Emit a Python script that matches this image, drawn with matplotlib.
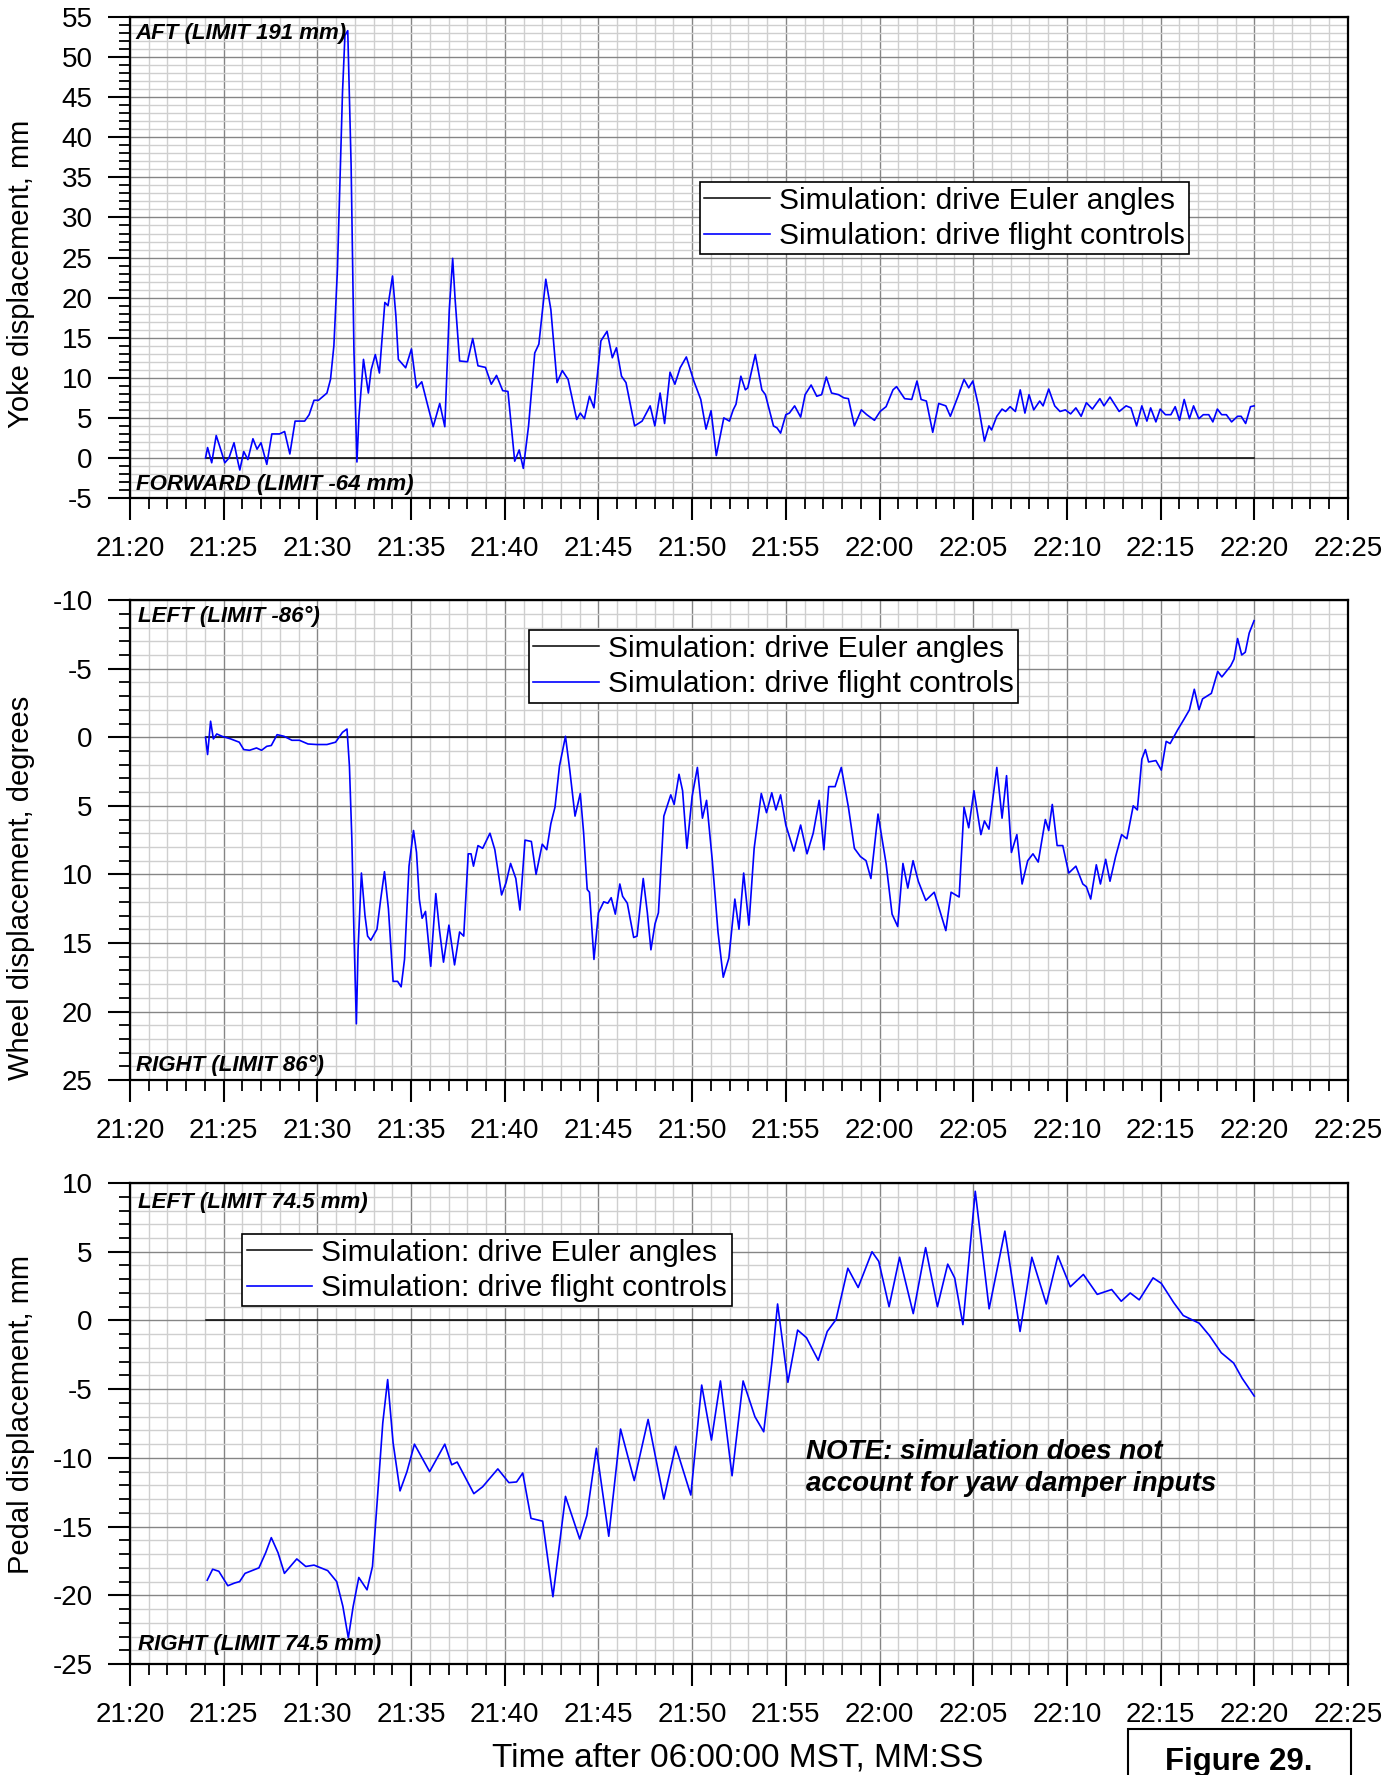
import numpy as np
import matplotlib
matplotlib.use('Agg')
import matplotlib.pyplot as plt
from matplotlib.ticker import MultipleLocator, FuncFormatter
from matplotlib.patches import Rectangle

plt.rcParams['font.family'] = ['Liberation Sans', 'DejaVu Sans']
plt.rcParams['axes.unicode_minus'] = False

# time axis: seconds after 06:21:20 MST
T_START = 21*60 + 20

# yoke displacement, mm (drive flight controls)
yoke_t = [4.03, 4.14, 4.36, 4.60, 4.78, 5.06, 5.28, 5.55, 5.77, 5.86, 6.07, 6.29, 6.56, 6.78, 6.99,
          7.30, 7.57, 7.98, 8.25, 8.53, 8.81, 9.32, 9.56, 9.82, 10.06, 10.51, 10.70, 10.88, 11.07,
          11.34, 11.47, 11.62, 11.80, 11.95, 12.11, 12.22, 12.46, 12.72, 12.87, 13.09, 13.31, 13.46,
          13.60, 13.77, 14.01, 14.19, 14.32, 14.71, 15.02, 15.29, 15.57, 15.85, 16.18, 16.53, 16.80,
          17.04, 17.22, 17.35, 17.59, 18.01, 18.29, 18.57, 18.97, 19.28, 19.56, 19.89, 20.17, 20.53,
          20.77, 20.99, 21.27, 21.60, 21.82, 22.19, 22.46, 22.79, 23.07, 23.38, 23.84, 24.03, 24.25,
          24.52, 24.76, 25.13, 25.46, 25.74, 25.96, 26.23, 26.47, 26.93, 27.33, 27.76, 28.01, 28.29,
          28.53, 28.82, 29.08, 29.36, 29.69, 30.09, 30.46, 30.74, 31.01, 31.29, 31.69, 31.99, 32.19,
          32.34, 32.60, 32.84, 32.97, 33.37, 33.72, 33.91, 34.34, 34.53, 34.72, 35.00, 35.19, 35.47,
          35.79, 36.03, 36.35, 36.65, 36.91, 37.16, 37.44, 37.81, 38.10, 38.34, 38.66, 39.03, 39.32,
          39.73, 40.03, 40.35, 40.72, 40.91, 41.34, 41.72, 42.00, 42.22, 42.50, 42.84, 43.16, 43.54,
          43.78, 44.19, 44.51, 44.76, 44.98, 45.28, 45.60, 45.84, 45.98, 46.26, 46.54, 46.73, 46.97,
          47.25, 47.51, 47.76, 47.98, 48.23, 48.55, 48.73, 49.03, 49.35, 49.63, 49.92, 50.20, 50.48,
          50.76, 51.04, 51.36, 51.76, 51.98, 52.30, 52.79, 53.16, 53.42, 53.72, 54.00, 54.27, 54.47,
          54.75, 54.98, 55.26, 55.55, 55.78, 56.01, 56.26, 56.54, 56.76, 57.04, 57.28, 57.57, 57.79,
          58.03, 58.26, 58.51, 58.79, 59.11, 59.30, 59.54, 59.80, 59.99]
yoke_v = [0.0, 1.3, -0.6, 2.8, 1.5, -0.6, 0.0, 1.9, -0.6, -1.5, 0.8, -0.2, 2.4, 1.1, 1.9,
          -0.8, 3.0, 3.0, 3.3, 0.5, 4.6, 4.6, 5.4, 7.2, 7.2, 8.1, 9.8, 14.0, 23.5,
          45.6, 52.7, 53.3, 36.5, 13.5, -0.5, 5.2, 12.3, 8.1, 11.0, 12.9, 10.6, 15.2,
          19.4, 19.0, 22.7, 17.7, 12.3, 11.25, 13.6, 8.75, 9.5, 6.9, 3.9, 6.8, 3.9,
          18.5, 24.9, 19.8, 12.1, 12.0, 14.9, 11.5, 11.3, 9.2, 10.3, 8.4, 8.3, -0.4,
          1.0, -1.3, 4.0, 13.1, 14.2, 22.3, 18.5, 9.4, 10.9, 9.8, 4.8, 5.6, 4.9,
          7.7, 6.25, 14.6, 15.8, 12.5, 13.75, 10.2, 9.4, 4.0, 4.6, 6.5, 4.0, 8.1,
          4.3, 10.7, 9.2, 11.25, 12.6, 9.6, 7.3, 3.6, 5.9, 0.3, 5.0, 4.6, 6.0,
          6.7, 10.2, 8.5, 8.75, 12.9, 8.5, 7.9, 4.0, 3.75, 3.1, 5.4, 5.6, 6.5,
          5.1, 7.9, 9.1, 7.7, 7.9, 10.1, 8.1, 7.9, 7.5, 7.4, 4.0, 6.0, 5.4,
          4.7, 5.8, 6.4, 8.5, 8.9, 7.4, 7.3, 9.6, 7.3, 7.1, 3.2, 6.8, 6.5,
          5.2, 7.7, 9.8, 8.75, 9.6, 6.5, 2.1, 4.0, 3.5, 5.2, 6.1, 5.8, 6.4,
          5.8, 8.5, 5.6, 7.9, 6.0, 7.1, 6.5, 8.6, 6.5, 5.8, 6.0, 5.5, 6.25,
          5.2, 6.9, 6.1, 7.4, 6.5, 7.6, 5.8, 6.5, 6.25, 4.0, 6.5, 4.6, 6.25,
          4.5, 6.1, 5.4, 5.4, 6.4, 4.7, 7.3, 4.9, 6.5, 4.9, 5.4, 5.4, 4.5,
          6.1, 5.4, 5.4, 4.5, 5.2, 5.2, 4.3, 6.4, 6.5]

# wheel displacement, degrees (positive = right)
wheel_t = [4.03, 4.14, 4.30, 4.45, 4.63, 4.91, 5.37, 5.83, 6.07, 6.38, 6.75, 7.02, 7.30, 7.54,
           7.85, 8.22, 8.64, 9.04, 9.50, 9.96, 10.51, 10.97, 11.34, 11.58, 11.71, 11.84, 11.95,
           12.08, 12.17, 12.35, 12.54, 12.68, 12.85, 13.18, 13.38, 13.58, 13.79, 14.04, 14.28,
           14.47, 14.65, 14.89, 15.13, 15.29, 15.44, 15.59, 15.77, 16.05, 16.32, 16.51, 16.73,
           17.02, 17.32, 17.59, 17.81, 18.05, 18.20, 18.33, 18.57, 18.82, 19.21, 19.47, 19.83,
           20.07, 20.31, 20.59, 20.81, 21.08, 21.42, 21.67, 22.00, 22.24, 22.46, 22.68, 22.92,
           23.24, 23.47, 23.75, 24.03, 24.21, 24.40, 24.52, 24.76, 25.00, 25.28, 25.50, 25.68,
           25.90, 26.14, 26.29, 26.54, 26.88, 27.06, 27.39, 27.61, 27.80, 28.02, 28.20, 28.49,
           28.86, 29.04, 29.30, 29.49, 29.72, 30.00, 30.28, 30.55, 30.77, 31.07, 31.38, 31.66,
           31.96, 32.28, 32.50, 32.75, 33.03, 33.31, 33.69, 33.97, 34.25, 34.47, 34.72, 35.00,
           35.43, 35.79, 36.13, 36.46, 36.78, 37.03, 37.29, 37.63, 37.96, 38.34, 38.66, 38.98,
           39.28, 39.54, 39.92, 40.35, 40.67, 40.97, 41.25, 41.51, 41.79, 42.07, 42.47, 42.92,
           43.54, 43.82, 44.25, 44.51, 44.76, 45.04, 45.41, 45.60, 45.84, 46.26, 46.54, 46.78,
           47.04, 47.33, 47.61, 47.91, 48.19, 48.47, 48.85, 49.03, 49.22, 49.48, 49.78, 50.10,
           50.48, 50.85, 51.04, 51.27, 51.57, 51.79, 52.07, 52.30, 52.60, 52.92, 53.20, 53.54,
           53.76, 54.00, 54.19, 54.36, 54.75, 55.04, 55.30, 55.51, 55.92, 56.24, 56.54, 56.80,
           57.05, 57.24, 57.71, 58.05, 58.27, 58.74, 58.92, 59.11, 59.33, 59.52, 59.73, 59.99]
wheel_v = [0.0, 1.26, -1.17, 0.12, -0.24, -0.07, 0.12, 0.36, 0.9, 0.95, 0.78, 0.95, 0.66, 0.6,
           -0.19, -0.07, 0.22, 0.22, 0.49, 0.53, 0.53, 0.36, -0.36, -0.6, 2.1, 7.45, 14.2,
           20.9, 15.5, 9.9, 13.0, 14.5, 14.8, 14.0, 11.8, 9.8, 12.5, 17.8, 17.8,
           18.2, 16.2, 9.4, 6.8, 8.4, 11.8, 13.2, 12.7, 16.7, 11.4, 14.0, 16.4,
           13.7, 16.6, 14.2, 14.5, 8.5, 8.5, 9.4, 7.9, 8.1, 7.0, 8.2, 11.5,
           10.6, 9.2, 10.3, 12.6, 7.5, 7.6, 10.0, 7.8, 8.2, 6.3, 5.1, 2.1,
           -0.07, 2.4, 5.75, 4.1, 7.0, 11.1, 11.3, 16.2, 12.8, 12.0, 12.1, 11.7,
           12.9, 10.7, 11.6, 12.1, 14.6, 14.5, 10.3, 12.8, 15.5, 13.6, 12.8, 5.75,
           4.2, 4.9, 2.7, 3.9, 8.1, 4.3, 2.2, 5.9, 4.6, 8.9, 14.2, 17.5,
           16.1, 11.8, 14.0, 9.9, 13.7, 8.1, 4.1, 5.5, 4.05, 5.3, 4.2, 6.4,
           8.3, 6.4, 8.5, 7.0, 4.6, 8.2, 3.6, 3.6, 2.2, 5.1, 8.1, 8.7,
           9.0, 10.3, 5.6, 9.2, 12.9, 13.8, 9.2, 11.0, 9.0, 10.5, 11.9, 11.3,
           14.1, 11.3, 11.65, 5.1, 6.6, 3.9, 7.1, 6.1, 6.7, 2.2, 5.9, 2.8,
           8.4, 7.1, 10.7, 9.0, 8.5, 9.1, 6.0, 6.8, 4.9, 7.9, 7.9, 9.9,
           9.4, 10.7, 10.9, 11.8, 9.3, 10.7, 8.9, 10.5, 8.7, 7.1, 7.4, 5.0,
           5.3, 1.6, 0.9, 1.8, 1.7, 2.4, 0.3, 0.46, -0.56, -1.29, -2.0, -3.5,
           -2.0, -2.8, -3.2, -4.8, -4.4, -5.2, -5.7, -7.2, -6.0, -6.2, -7.6, -8.5]

# pedal displacement, mm (positive = left)
pedal_t = [4.12, 4.41, 4.74, 5.22, 5.59, 5.85, 6.14, 6.88, 7.24, 7.54, 7.90, 8.24, 8.90, 9.38,
           9.82, 10.55, 11.03, 11.36, 11.65, 11.91, 12.21, 12.65, 12.94, 13.20, 13.49, 13.75,
           14.04, 14.41, 14.78, 15.18, 15.99, 16.80, 17.17, 17.46, 18.35, 18.82, 19.63, 20.22,
           20.63, 20.96, 21.40, 22.02, 22.57, 23.24, 24.00, 24.38, 24.89, 25.55, 26.18, 26.91,
           27.65, 28.49, 29.12, 29.93, 30.51, 31.03, 31.51, 32.13, 32.72, 33.35, 33.82, 34.26,
           34.56, 35.11, 35.63, 36.10, 36.73, 37.21, 37.68, 38.31, 38.86, 39.60, 39.96, 40.51,
           41.07, 41.80, 42.46, 43.09, 43.64, 44.01, 44.45, 45.11, 45.85, 46.69, 47.50, 48.13,
           48.90, 49.52, 50.18, 50.88, 51.62, 52.39, 52.90, 53.38, 53.86, 54.60, 55.04, 55.70,
           56.21, 57.06, 57.61, 58.24, 58.90, 59.35, 60.00]
pedal_v = [-18.9, -18.1, -18.25, -19.3, -19.1, -19.0, -18.4, -18.0, -16.9, -15.8, -16.9, -18.4, -17.35, -17.9,
           -17.8, -18.2, -19.0, -20.8, -23.1, -20.8, -18.7, -19.6, -17.9, -13.0, -7.45, -4.3,
           -8.9, -12.4, -11.0, -9.0, -11.0, -9.0, -10.5, -10.3, -12.6, -12.1, -10.8, -11.8,
           -11.75, -11.1, -14.4, -14.6, -20.1, -12.8, -15.9, -14.2, -9.3, -15.7, -7.9, -11.65,
           -7.2, -13.0, -9.15, -12.7, -4.7, -8.7, -4.4, -11.3, -4.4, -7.0, -8.1, -3.0,
           1.2, -4.5, -0.7, -1.25, -2.9, -0.8, 0.07, 3.8, 2.4, 5.0, 4.3, 1.0,
           4.6, 0.5, 5.3, 1.0, 4.1, 3.1, -0.3, 9.4, 0.85, 6.5, -0.8, 4.6,
           1.2, 4.7, 2.45, 3.35, 1.9, 2.25, 1.4, 2.0, 1.5, 3.1, 2.7, 1.3,
           0.36, -0.2, -1.1, -2.35, -3.1, -4.2, -5.5]

# Euler-angle driven runs give no control input over the same interval
euler_t = [4.03, 59.99]
euler_v = [0.0, 0.0]

labels = ['Simulation: drive Euler angles', 'Simulation: drive flight controls']


def mmss(s, pos):
    s = int(round(s + T_START))
    return '%d:%02d' % (s // 60, s % 60)


def setup(ax, ylim, ylabel, label_y):
    ax.set_xlim(0, 65)
    ax.set_ylim(*ylim)
    ax.xaxis.set_major_locator(MultipleLocator(5))
    ax.xaxis.set_minor_locator(MultipleLocator(1))
    ax.yaxis.set_major_locator(MultipleLocator(5))
    ax.yaxis.set_minor_locator(MultipleLocator(1))
    ax.xaxis.set_major_formatter(FuncFormatter(mmss))
    ax.grid(which='minor', color='#cfcfcf', lw=1.0)
    ax.grid(which='major', color='#858585', lw=1.0)
    ax.set_axisbelow(True)
    ax.tick_params(which='major', direction='out', length=16, width=1.5,
                   labelsize=20, pad=11)
    ax.tick_params(which='minor', direction='out', length=8, width=1.3)
    for sp in ax.spines.values():
        sp.set_linewidth(1.6)
    ax.set_ylabel(ylabel, fontsize=21)
    ax.yaxis.set_label_coords(-0.078, label_y)


def note(ax, x, y, s, size=16):
    ax.text(x, y, s, fontsize=size, fontweight='bold', style='italic',
            ha='left', va='center')


def legend(ax, anchor):
    leg = ax.legend(labels, loc='upper left', bbox_to_anchor=anchor, fontsize=21.5,
                    fancybox=False, edgecolor='black', framealpha=1, borderaxespad=0,
                    handlelength=2.2, handletextpad=0.3, labelspacing=0.25, borderpad=0.15)
    leg.get_frame().set_linewidth(1.2)


fig = plt.figure(figsize=(13.98, 17.75), dpi=100)
ax1 = fig.add_axes([0.0930, 0.7194, 0.8712, 0.2710])
ax2 = fig.add_axes([0.0930, 0.3915, 0.8712, 0.2704])
ax3 = fig.add_axes([0.0930, 0.0625, 0.8712, 0.2710])

# yoke
setup(ax1, (-5, 55), 'Yoke displacement, mm', 0.466)
ax1.plot(euler_t, euler_v, color='black', lw=1.1)
ax1.plot(yoke_t, yoke_v, color='#0000ff', lw=1.2)
note(ax1, 0.3, 52.9, 'AFT (LIMIT 191 mm)')
note(ax1, 0.3, -3.3, 'FORWARD (LIMIT -64 mm)')
legend(ax1, (0.468, 0.657))

# wheel
setup(ax2, (25, -10), 'Wheel displacement, degrees', 0.40)
ax2.plot(euler_t, euler_v, color='black', lw=1.1)
ax2.plot(wheel_t, wheel_v, color='#0000ff', lw=1.2)
note(ax2, 0.4, -8.8, 'LEFT (LIMIT -86°)')
note(ax2, 0.3, 23.9, 'RIGHT (LIMIT 86°)')
legend(ax2, (0.3276, 0.9375))

# pedals
setup(ax3, (-25, 10), 'Pedal displacement, mm', 0.518)
ax3.plot(euler_t, euler_v, color='black', lw=1.1)
ax3.plot(pedal_t, pedal_v, color='#0000ff', lw=1.2)
note(ax3, 0.45, 8.6, 'LEFT (LIMIT 74.5 mm)')
note(ax3, 0.4, -23.6, 'RIGHT (LIMIT 74.5 mm)')
ax3.text(36.1, -10.7, 'NOTE: simulation does not\naccount for yaw damper inputs',
         fontsize=20, fontweight='bold', style='italic', ha='left', va='center',
         linespacing=1.3)
legend(ax3, (0.092, 0.894))

fig.text(0.528, 1 - 1758/1775, 'Time after 06:00:00 MST, MM:SS', ha='center', va='center',
         fontsize=24)

box = Rectangle((1128/1398, 1 - 1800/1775), 223/1398, 71/1775, transform=fig.transFigure,
                fill=False, ec='black', lw=1.5, clip_on=False)
fig.patches.append(box)
fig.text(1239/1398, 1 - 1762/1775, 'Figure 29.', ha='center', va='center', fontsize=22.5,
         fontweight='bold')

fig.savefig('out.png', dpi=100)
